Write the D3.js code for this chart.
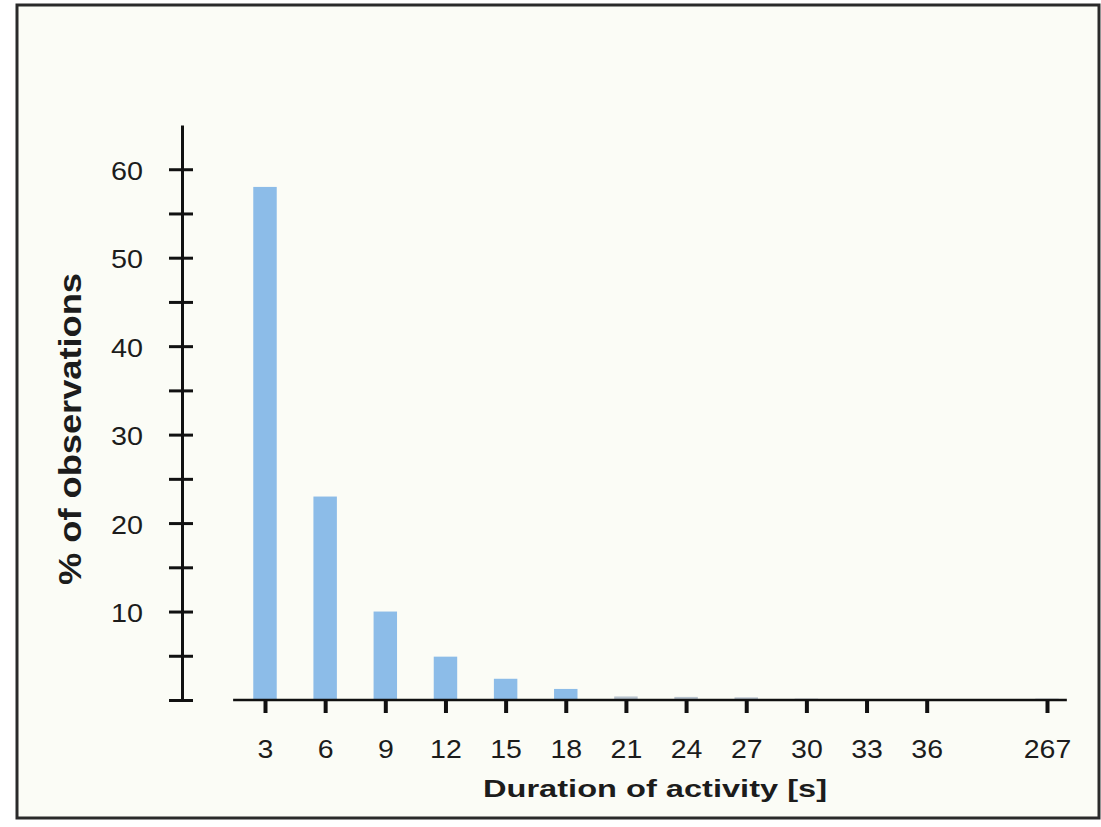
<!DOCTYPE html>
<html>
<head>
<meta charset="utf-8">
<script src="https://cdn.jsdelivr.net/npm/d3@7"></script>
<style>
  body { margin: 0; background: #ffffff; }
  text { font-family: "Liberation Sans", Arial, sans-serif; fill: #1c1c1c; }
</style>
</head>
<body>
<svg id="chart" width="1101" height="827"></svg>
<script>
// durations (s) shown on the x axis, one empty slot before the last one
var categories = ['3', '6', '9', '12', '15', '18', '21', '24', '27', '30', '33', '36', '267'];
var slots = ['3', '6', '9', '12', '15', '18', '21', '24', '27', '30', '33', '36', 'gap', '267'];
// % of observations per duration
var values = [58, 23, 10, 4.9, 2.4, 1.25, 0.4, 0.35, 0.3, 0.15, 0.1, 0.05, 0.15];
var yTicks = [0, 5, 10, 15, 20, 25, 30, 35, 40, 45, 50, 55, 60];
var yLabels = [10, 20, 30, 40, 50, 60];

var data = categories.map(function (c, i) { return { cat: c, value: values[i] }; });

var svg = d3.select('#chart');

// scanned page frame
svg.append('rect')
    .attr('x', 17).attr('y', 5)
    .attr('width', 1082).attr('height', 813)
    .attr('fill', '#fbfcf6')
    .attr('stroke', '#2a2a2a')
    .attr('stroke-width', 3);

var x = d3.scalePoint().domain(slots).range([265, 1047]);
var y = d3.scaleLinear().domain([0, 65]).range([700, 125]);
var barWidth = x.step() * 0.39;

// horizontal stretch of the scanned lettering
function stretch(sel, k) {
    sel.each(function () {
        var len = this.getComputedTextLength();
        d3.select(this).attr('textLength', len * k).attr('lengthAdjust', 'spacingAndGlyphs');
    });
}

// bars
svg.append('g').selectAll('rect')
    .data(data)
    .enter()
    .append('rect')
    .attr('x', function (d) { return x(d.cat) - barWidth / 2; })
    .attr('y', function (d) { return y(d.value); })
    .attr('width', barWidth)
    .attr('height', function (d) { return y(0) - y(d.value); })
    .attr('fill', function (d) { return d.value < 1 ? '#b7c3ce' : '#8cbce8'; });

// y axis, ticks cross the line
var yAxis = d3.axisLeft(y)
    .tickValues(yTicks)
    .tickSizeInner(0)
    .tickSizeOuter(0)
    .tickPadding(39)
    .tickFormat(function (d) { return yLabels.indexOf(d) >= 0 ? d : ''; });

var gy = svg.append('g')
    .attr('transform', 'translate(182,0)')
    .call(yAxis);
gy.select('.domain').attr('stroke', '#111').attr('stroke-width', 3);
gy.selectAll('.tick line')
    .attr('x1', -13).attr('x2', 11)
    .attr('stroke', '#111').attr('stroke-width', 3);
gy.selectAll('.tick text').attr('font-size', 25).attr('dy', '0.4em').call(stretch, 1.15);

// x axis
var xAxis = d3.axisBottom(x)
    .tickValues(categories)
    .tickSizeInner(13)
    .tickSizeOuter(0)
    .tickPadding(27);

var gx = svg.append('g')
    .attr('transform', 'translate(0,700)')
    .call(xAxis);
gx.select('.domain').remove();
gx.append('line')
    .attr('x1', x(slots[0]) - x.step() * 0.53)
    .attr('x2', x(slots[slots.length - 1]) + x.step() * 0.33)
    .attr('stroke', '#111').attr('stroke-width', 2.5);
gx.selectAll('.tick line').attr('stroke', '#111').attr('stroke-width', 4);
gx.selectAll('.tick text').attr('font-size', 25).call(stretch, 1.14);

// axis titles
svg.append('text')
    .attr('x', 655).attr('y', 797)
    .attr('text-anchor', 'middle')
    .attr('font-size', 24)
    .attr('font-weight', 'bold')
    .attr('textLength', 344)
    .attr('lengthAdjust', 'spacingAndGlyphs')
    .text('Duration of activity [s]');

svg.append('text')
    .attr('transform', 'translate(81,429) rotate(-90)')
    .attr('text-anchor', 'middle')
    .attr('font-size', 32)
    .attr('font-weight', 'bold')
    .attr('textLength', 312)
    .attr('lengthAdjust', 'spacingAndGlyphs')
    .text('% of observations');
</script>
</body>
</html>
